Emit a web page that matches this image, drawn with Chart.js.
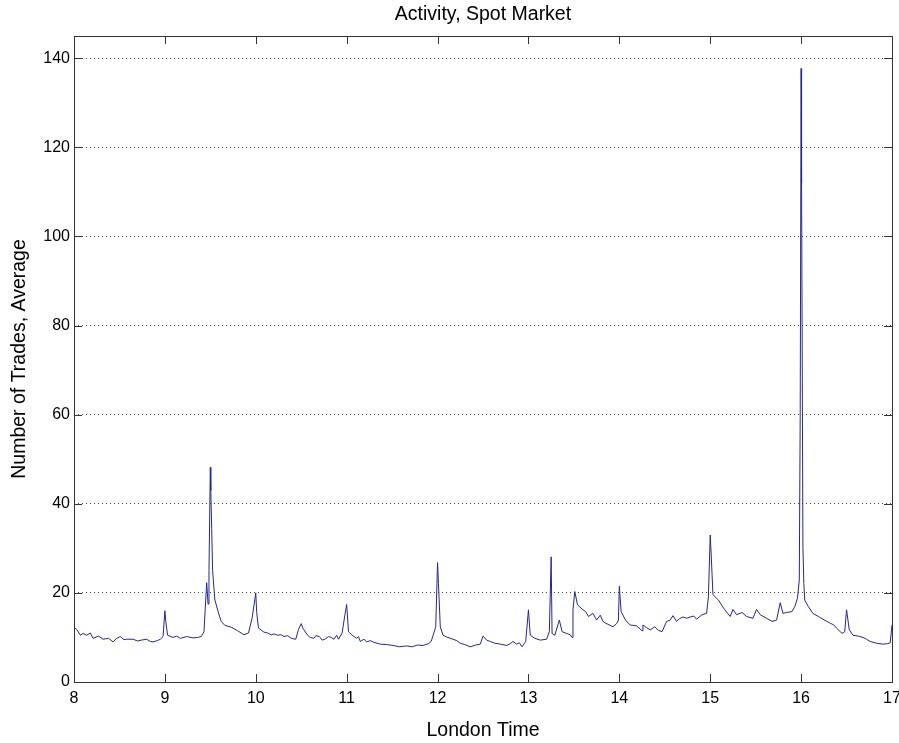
<!DOCTYPE html>
<html>
<head>
<meta charset="utf-8">
<title>Activity, Spot Market</title>
<script src="https://cdn.jsdelivr.net/npm/chart.js@4.4.0/dist/chart.umd.min.js"></script>
<style>
  html, body { margin: 0; padding: 0; background: #fff; }
  canvas { display: block; }
</style>
</head>
<body>
<canvas id="activity-chart" width="899" height="743"></canvas>
<script>
// London time (decimal hours) and average number of trades, 8:00 - 11:00
const timeMorning = [
  8.00, 8.03, 8.07, 8.10, 8.14, 8.18, 8.21, 8.27, 8.32, 8.38, 8.43, 8.47, 8.51, 8.55, 8.58,
  8.65, 8.70, 8.74, 8.80, 8.84, 8.87, 8.92, 8.95, 8.98, 9.00, 9.01, 9.03, 9.09, 9.13, 9.17,
  9.24, 9.31, 9.36, 9.40, 9.43, 9.46, 9.475, 9.485, 9.50, 9.505, 9.515, 9.525, 9.55, 9.59,
  9.62, 9.66, 9.73, 9.80, 9.87, 9.92, 9.96, 10.00, 10.01, 10.03, 10.09, 10.13, 10.17, 10.20,
  10.24, 10.28, 10.31, 10.35, 10.39, 10.44, 10.47, 10.50, 10.52, 10.57, 10.60, 10.64, 10.66,
  10.70, 10.73, 10.76, 10.80, 10.83, 10.86, 10.89, 10.91, 10.95, 10.98, 11.00
];
const tradesMorning = [
  12.3, 11.8, 10.5, 10.9, 10.5, 11.0, 9.8, 10.3, 9.6, 9.8, 9.0, 9.8, 10.2, 9.5, 9.6,
  9.6, 9.2, 9.4, 9.6, 9.1, 9.0, 9.3, 9.6, 10.2, 16.0, 13.5, 10.5, 10.0, 10.3, 9.8,
  10.2, 9.9, 10.0, 10.2, 11.3, 22.3, 17.5, 25.0, 48.2, 43.0, 34.5, 25.0, 18.4, 15.5,
  13.6, 12.7, 12.3, 11.5, 10.6, 11.0, 14.4, 20.0, 15.6, 12.1, 11.2, 11.0, 10.6, 10.8,
  10.5, 10.6, 10.2, 10.4, 9.8, 9.6, 11.8, 13.1, 12.0, 10.5, 10.0, 9.8, 10.4,
  10.2, 9.4, 9.6, 10.2, 10.0, 9.6, 10.5, 9.6, 11.0, 15.0, 17.4
];

// 11:00 - 14:00
const timeMidday = [
  11.02, 11.06, 11.11, 11.13, 11.15, 11.19, 11.22, 11.26, 11.30, 11.37, 11.44, 11.51, 11.58,
  11.66, 11.72, 11.78, 11.84, 11.90, 11.93, 11.98, 12.00, 12.01, 12.03, 12.06, 12.10, 12.17,
  12.21, 12.25, 12.30, 12.36, 12.42, 12.47, 12.50, 12.54, 12.58, 12.63, 12.69, 12.76, 12.80,
  12.83, 12.87, 12.90, 12.93, 12.97, 13.00, 13.02, 13.07, 13.13, 13.20, 13.23, 13.25, 13.26,
  13.29, 13.34, 13.37, 13.42, 13.46, 13.48, 13.49, 13.51, 13.54, 13.60, 13.63, 13.66, 13.71,
  13.75, 13.79, 13.82, 13.85, 13.89, 13.93, 13.97, 13.99, 14.00
];
const tradesMidday = [
  11.3, 10.5, 9.8, 10.2, 9.1, 9.6, 9.0, 9.3, 8.9, 8.5, 8.4, 8.2, 7.9,
  8.1, 7.9, 8.3, 8.2, 8.6, 9.1, 12.4, 26.8, 22.1, 12.4, 10.5, 10.1, 9.6,
  9.3, 8.7, 8.4, 7.9, 8.3, 8.5, 10.3, 9.4, 9.1, 8.7, 8.5, 8.2, 8.6,
  9.1, 8.5, 8.8, 7.9, 9.1, 16.2, 10.5, 9.8, 9.4, 9.6, 11.3, 28.1, 10.9,
  10.5, 13.9, 11.3, 10.9, 10.6, 10.0, 16.2, 20.3, 17.3, 16.2, 15.8, 14.7, 15.4,
  13.9, 15.0, 13.6, 13.2, 12.8, 12.4, 13.1, 13.9, 21.5
];

// 14:00 - 17:00
const timeAfternoon = [
  14.02, 14.07, 14.12, 14.19, 14.25, 14.26, 14.30, 14.34, 14.39, 14.43, 14.47, 14.52, 14.56,
  14.59, 14.63, 14.66, 14.70, 14.74, 14.78, 14.82, 14.85, 14.91, 14.96, 14.98, 15.00, 15.01,
  15.03, 15.09, 15.16, 15.22, 15.25, 15.29, 15.35, 15.40, 15.47, 15.51, 15.55, 15.62, 15.68,
  15.73, 15.77, 15.80, 15.84, 15.90, 15.93, 15.96, 15.98, 15.99, 16.00, 16.005, 16.02, 16.03,
  16.04, 16.08, 16.13, 16.19, 16.24, 16.32, 16.36, 16.39, 16.45, 16.48, 16.50, 16.53, 16.57,
  16.63, 16.68, 16.72, 16.76, 16.83, 16.90, 16.95, 16.98, 17.00
];
const tradesAfternoon = [
  15.8, 13.8, 12.8, 12.6, 11.5, 12.8, 12.2, 11.7, 12.4, 11.6, 11.3, 13.6, 13.9,
  14.9, 13.6, 14.2, 14.6, 14.3, 14.6, 14.8, 14.1, 15.1, 15.4, 19.1, 33.0, 28.9,
  19.6, 18.4, 16.2, 14.7, 16.3, 15.1, 15.6, 14.7, 14.3, 16.3, 15.1, 14.3, 13.6,
  13.9, 17.8, 15.4, 15.6, 15.8, 16.9, 18.8, 22.9, 59.6, 137.7, 111.9, 30.0, 22.1,
  18.4, 16.9, 15.4, 14.7, 14.1, 13.2, 12.8, 12.1, 10.9, 11.3, 16.2, 11.7, 10.5,
  10.3, 10.0, 9.6, 9.1, 8.7, 8.5, 8.6, 8.8, 12.8
];

const hourTicks = [8, 9, 10, 11, 12, 13, 14, 15, 16, 17];
const tradeTicks = [0, 20, 40, 60, 80, 100, 120, 140];
const chartTitle = "Activity, Spot Market";

const times = timeMorning.concat(timeMidday, timeAfternoon);
const trades = tradesMorning.concat(tradesMidday, tradesAfternoon);
const points = times.map((t, i) => ({ x: t, y: trades[i] }));

const FONT = "'Liberation Sans', Arial, Helvetica, sans-serif";

// box around the axes with inward ticks on all four sides, title centred over the plot
const axesBox = {
  id: "axesBox",
  afterDraw(chart) {
    const { ctx, chartArea: a, scales } = chart;
    const len = 8;
    ctx.save();
    ctx.strokeStyle = "#333";
    ctx.lineWidth = 1;
    ctx.beginPath();
    scales.x.ticks.forEach((t) => {
      const px = Math.round(scales.x.getPixelForValue(t.value)) + 0.5;
      ctx.moveTo(px, a.bottom);
      ctx.lineTo(px, a.bottom - len);
      ctx.moveTo(px, a.top);
      ctx.lineTo(px, a.top + len);
    });
    scales.y.ticks.forEach((t) => {
      const py = Math.round(scales.y.getPixelForValue(t.value)) + 0.5;
      ctx.moveTo(a.left, py);
      ctx.lineTo(a.left + len, py);
      ctx.moveTo(a.right, py);
      ctx.lineTo(a.right - len, py);
    });
    ctx.stroke();
    ctx.strokeRect(Math.round(a.left) + 0.5, Math.round(a.top) + 0.5,
      Math.round(a.right - a.left), Math.round(a.bottom - a.top));

    ctx.fillStyle = "#000";
    ctx.font = "19.5px " + FONT;
    ctx.textAlign = "center";
    ctx.textBaseline = "middle";
    ctx.fillText(chartTitle, (a.left + a.right) / 2, 15);
    ctx.restore();
  },
};

new Chart(document.getElementById("activity-chart"), {
  type: "line",
  data: {
    datasets: [
      {
        label: "Number of Trades",
        data: points,
        borderColor: "#262690",
        borderWidth: 1,
        pointRadius: 0,
        tension: 0,
        fill: false,
      },
    ],
  },
  options: {
    responsive: false,
    animation: false,
    layout: { padding: { left: 0, right: 7, top: 36, bottom: 0 } },
    plugins: {
      legend: { display: false },
      tooltip: { enabled: false },
      title: { display: false },
    },
    scales: {
      x: {
        type: "linear",
        min: 8,
        max: 17,
        afterBuildTicks: (s) => { s.ticks = hourTicks.map((v) => ({ value: v })); },
        afterFit: (s) => {
          s.height = 61;
          s.paddingLeft = 0;
          s.paddingRight = 0;
        },
        grid: { display: false, drawTicks: false },
        border: { display: false },
        ticks: {
          color: "#000",
          padding: 7,
          maxRotation: 0,
          font: { family: FONT, size: 16 },
        },
        title: {
          display: true,
          text: "London Time",
          color: "#000",
          font: { family: FONT, size: 19.5, lineHeight: 1.2 },
          padding: { top: 0, bottom: 0.3 },
        },
      },
      y: {
        min: 0,
        max: 145,
        afterBuildTicks: (s) => { s.ticks = tradeTicks.map((v) => ({ value: v })); },
        afterFit: (s) => {
          s.width = 74;
          s.paddingTop = 0;
          s.paddingBottom = 0;
        },
        grid: { color: "#444", lineWidth: 1, drawTicks: false },
        border: { display: false, dash: [1, 3] },
        ticks: {
          color: "#000",
          padding: 4,
          font: { family: FONT, size: 16 },
        },
        title: {
          display: true,
          text: "Number of Trades, Average",
          color: "#000",
          font: { family: FONT, size: 19.5, lineHeight: 1.2 },
          padding: { top: 8.3, bottom: 0 },
        },
      },
    },
  },
  plugins: [axesBox],
});
</script>
</body>
</html>
